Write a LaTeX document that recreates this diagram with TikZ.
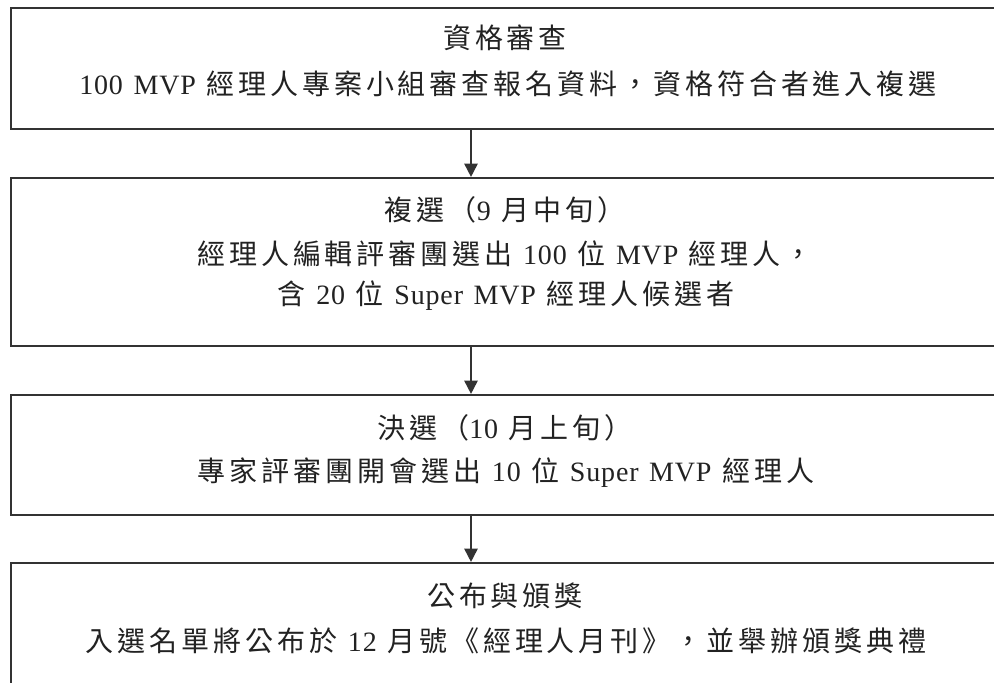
\documentclass[tikz,border=0pt]{standalone}
\usepackage{fontspec}
\setmainfont{Liberation Serif}[LetterSpace=3,WordSpace=1.35]
\newfontfamily\cjkfont{Noto Sans CJK TC}[LetterSpace=14]
\newcommand\zh[1]{{\cjkfont #1}}
\usetikzlibrary{arrows.meta}
\definecolor{ink}{HTML}{222222}
\definecolor{edge}{HTML}{333333}
\begin{document}
\begin{tikzpicture}[x=0.75pt,y=-0.75pt,
  box/.style={draw=edge,line width=1.6pt,minimum width=989*0.75pt,inner sep=0pt},
  txt/.style={text=ink,font=\fontsize{21pt}{25pt}\selectfont,inner sep=0pt,anchor=center},
  arr/.style={draw=edge,line width=1.3pt,-{Triangle[length=10pt,width=10pt]}}]
\useasboundingbox (0,0) rectangle (994,682);
\clip (0,0) rectangle (994,682);
\fill[white] (0,0) rectangle (994,682);
\node[box,minimum height=121*0.75pt] (b1) at (505.5,68.5) {};
\node[box,minimum height=168*0.75pt] (b2) at (505.5,262) {};
\node[box,minimum height=120*0.75pt] (b3) at (505.5,455) {};
\node[box,minimum height=137*0.75pt] (b4) at (505.5,631.5) {};
\coordinate (ax) at (471,0);
\node[txt] (t1a) at (505,38) {\zh{資格審查}};
\node[txt] (t1b) at (508,84) {100 MVP \zh{經理人專案小組審查報名資料，資格符合者進入複選}};
\node[txt] (t2a) at (505,210) {\zh{複選（}9 \zh{月中旬）}};
\node[txt] (t2b) at (505,254) {\zh{經理人編輯評審團選出} 100 \zh{位} MVP \zh{經理人，}};
\node[txt] (t2c) at (506,296) {\zh{含} 20 \zh{位} Super MVP \zh{經理人候選者}};
\node[txt] (t3a) at (505,428) {\zh{決選（}10 \zh{月上旬）}};
\node[txt] (t3b) at (506,473) {\zh{專家評審團開會選出} 10 \zh{位} Super MVP \zh{經理人}};
\node[txt] (t4a) at (505,596) {\zh{公布與頒獎}};
\node[txt] (t4b) at (506,641) {\zh{入選名單將公布於} 12 \zh{月號《經理人月刊》，並舉辦頒獎典禮}};
\draw[arr] (b1.south -| ax) -- (b2.north -| ax);
\draw[arr] (b2.south -| ax) -- (b3.north -| ax);
\draw[arr] (b3.south -| ax) -- (b4.north -| ax);
\end{tikzpicture}
\end{document}
